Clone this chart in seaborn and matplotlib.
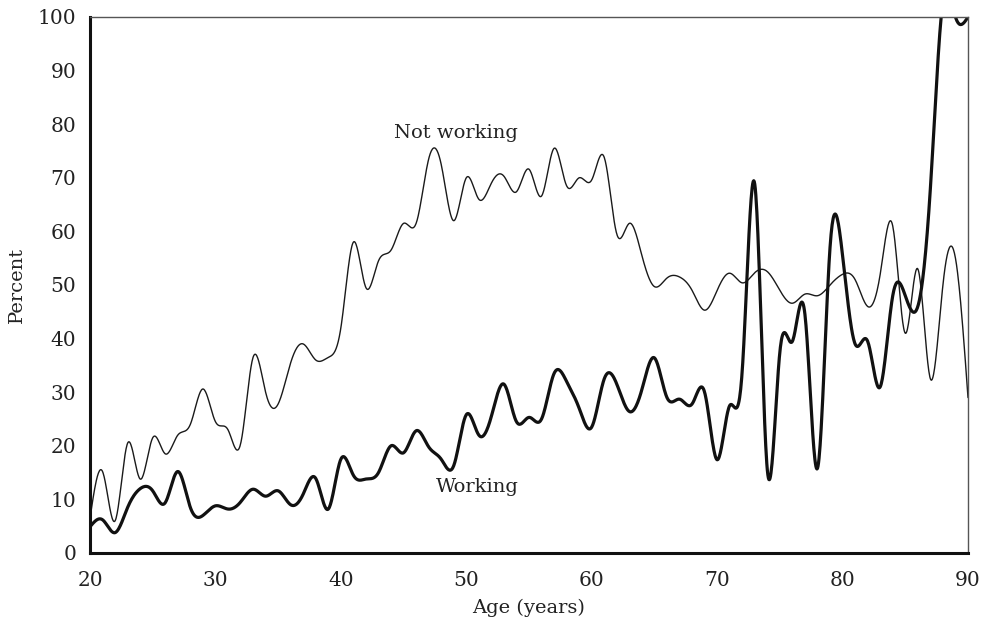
import numpy as np
import pandas as pd
import matplotlib
matplotlib.use("Agg")
import matplotlib.pyplot as plt
import seaborn as sns

# Share of people in each age group, by employment status
ages = list(range(20, 91))

working = [
    4.9, 6.2, 3.8, 8.5, 12.0, 11.6, 9.4, 15.2, 8.5, 7.0,      # 20-29
    8.8, 8.2, 9.5, 11.9, 10.6, 11.6, 9.0, 11.0, 13.9, 8.2,    # 30-39
    17.5, 14.5, 13.8, 15.0, 20.0, 18.7, 22.8, 19.8, 17.5, 16.3,  # 40-49
    25.8, 22.0, 25.5, 31.5, 24.5, 25.3, 25.0, 33.5, 32.0, 27.0,  # 50-59
    23.5, 32.5, 31.5, 26.4, 30.5, 36.4, 29.0, 28.7, 27.8, 30.0,  # 60-69
    17.4, 27.5, 34.0, 68.8, 15.5, 37.5, 39.5, 44.5, 15.8, 57.0,  # 70-79
    55.5, 39.0, 39.5, 31.0, 48.0, 48.0, 46.0, 68.0, 103.0, 100.0,  # 80-89
    100.0,                                                       # 90
]

not_working = [
    6.5, 15.2, 6.0, 20.5, 13.8, 21.5, 18.5, 22.0, 24.0, 30.6,  # 20-29
    24.5, 23.0, 20.3, 36.5, 30.0, 27.8, 35.5, 39.0, 36.0, 36.5,  # 30-39
    42.0, 58.0, 49.5, 54.5, 56.5, 61.5, 61.5, 73.5, 72.5, 62.0,  # 40-49
    70.0, 66.0, 69.0, 70.3, 67.4, 71.6, 66.6, 75.5, 68.5, 70.0,  # 50-59
    69.6, 73.8, 59.5, 61.5, 55.5, 49.7, 51.3, 51.5, 49.0, 45.3,  # 60-69
    49.0, 52.2, 50.4, 52.3, 52.5, 49.0, 46.6, 48.3, 48.0, 50.0,  # 70-79
    52.0, 51.0, 46.0, 52.0, 61.0, 41.0, 53.0, 32.5, 50.0, 55.0,  # 80-89
    29.0,                                                        # 90
]

x_ticks = [20, 30, 40, 50, 60, 70, 80, 90]
y_ticks = [0, 10, 20, 30, 40, 50, 60, 70, 80, 90, 100]


def natural_spline(x, y, per_step=24):
    """Evaluate a natural cubic spline through evenly spaced points."""
    x = np.asarray(x, float)
    y = np.asarray(y, float)
    n = len(x)
    h = x[1] - x[0]
    a = np.zeros((n, n))
    rhs = np.zeros(n)
    a[0, 0] = a[-1, -1] = 1.0
    for i in range(1, n - 1):
        a[i, i - 1], a[i, i], a[i, i + 1] = 1.0, 4.0, 1.0
        rhs[i] = 6.0 * (y[i + 1] - 2 * y[i] + y[i - 1]) / h ** 2
    m = np.linalg.solve(a, rhs)
    xs, ys = [], []
    for i in range(n - 1):
        u = np.linspace(0, 1, per_step, endpoint=False)
        s = (m[i] / 6 * (1 - u) ** 3 + m[i + 1] / 6 * u ** 3) * h ** 2 \
            + (y[i] - m[i] * h ** 2 / 6) * (1 - u) + (y[i + 1] - m[i + 1] * h ** 2 / 6) * u
        xs.append(x[i] + u * h)
        ys.append(s)
    xs.append([x[-1]])
    ys.append([y[-1]])
    return np.concatenate(xs), np.concatenate(ys)


sns.set_theme(style="white")
plt.rcParams["font.family"] = ["DejaVu Serif"]

fig = plt.figure(figsize=(9.84, 6.29), dpi=100)
ax = fig.add_axes([90 / 984, 1 - 553 / 629, 878 / 984, 536 / 629])

frames = []
for name, vals in [("Not working", not_working), ("Working", working)]:
    sx, sy = natural_spline(ages, vals)
    frames.append(pd.DataFrame({"Age": sx, "Percent": sy, "Status": name}))
curves = pd.concat(frames, ignore_index=True)

sns.lineplot(data=curves[curves.Status == "Not working"], x="Age", y="Percent",
             color="#1a1a1a", linewidth=1.0, ax=ax, legend=False)
sns.lineplot(data=curves[curves.Status == "Working"], x="Age", y="Percent",
             color="#111111", linewidth=2.3, ax=ax, legend=False)

ax.set_xlim(20, 90)
ax.set_ylim(0, 100)
ax.set_xticks(x_ticks)
ax.set_yticks(y_ticks)

for side in ("left", "bottom"):
    ax.spines[side].set_linewidth(2.2)
    ax.spines[side].set_color("#111111")
for side in ("top", "right"):
    ax.spines[side].set_linewidth(1.0)
    ax.spines[side].set_color("#555555")
    ax.spines[side].set_visible(True)

ax.tick_params(axis="both", direction="in", length=8, width=1.0, color="#555555",
               labelsize=14.5, labelcolor="#222222")
ax.tick_params(axis="y", pad=10)
ax.tick_params(axis="x", pad=13)

ax.set_xlabel("Age (years)", fontsize=14, color="#222222", labelpad=6)
ax.set_ylabel("Percent", fontsize=14, color="#222222", labelpad=8)

ax.text(49.2, 78.4, "Not working", fontsize=14, color="#222222", ha="center", va="center")
ax.text(50.9, 12.3, "Working", fontsize=14, color="#222222", ha="center", va="center")

fig.savefig("out.png", dpi=100)
